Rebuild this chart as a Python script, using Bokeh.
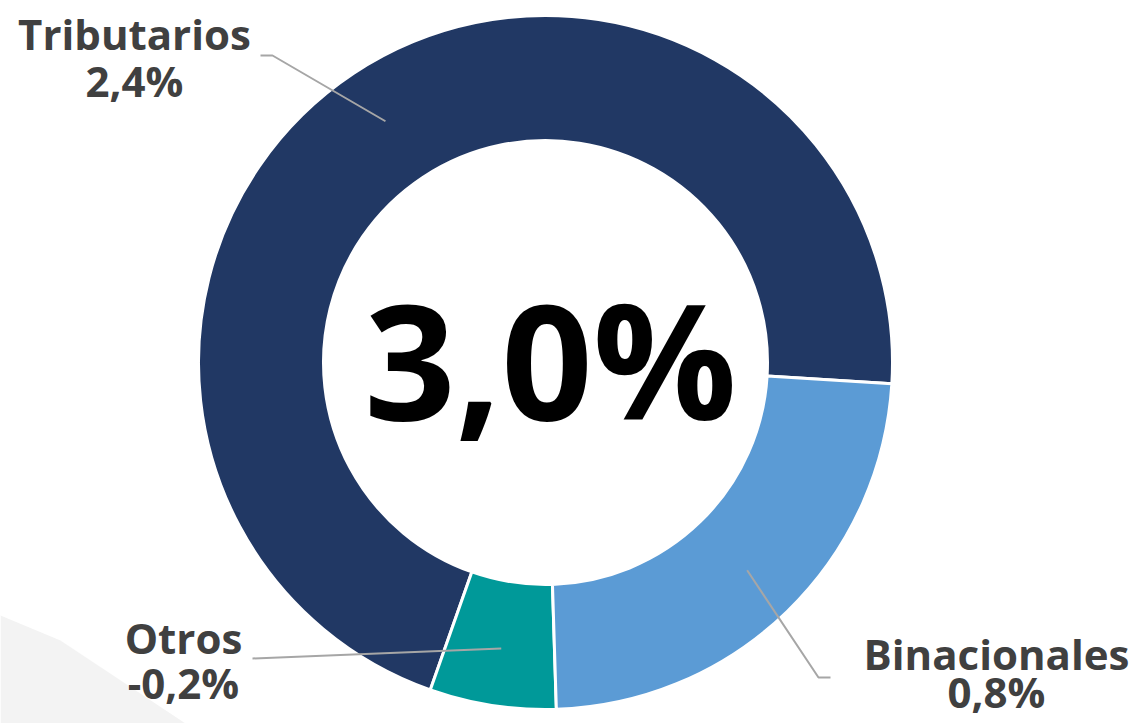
import math
from bokeh.plotting import figure
from bokeh.models import Range1d, ColumnDataSource
from bokeh.core.properties import value
from bokeh.embed import file_html
from bokeh.resources import INLINE

# ---- data ----
categories = ["Tributarios", "Otros", "Binacionales"]
values = [2.4, -0.2, 0.8]
value_labels = ["2,4%", "-0,2%", "0,8%"]
total_label = "3,0%"
colors = ["#213864", "#009999", "#5B9BD5"]

# ---- layout (screen pixels of the 1139x723 window) ----
W, H = 1139, 723
def sy(y):  # screen y -> data y
    return H - y

cx, cy = 545, sy(362)
r_out, r_in = 347, 222
start_deg = -3.5

p = figure(width=W, height=H, output_backend="svg", toolbar_location=None,
           x_range=Range1d(0, W), y_range=Range1d(0, H),
           min_border=0, outline_line_color=None)
p.axis.visible = False
p.grid.visible = False
p.background_fill_color = "white"

# faint background decoration bottom-left
p.patch([0, 60, 185, 0], [sy(615), sy(640), sy(723), sy(723)],
        fill_color="#e4e4e4", fill_alpha=0.45, line_color=None)

# wedge angles from data
absvals = [abs(v) for v in values]
tot = sum(absvals)
starts, ends = [], []
a = math.radians(start_deg)
for v in absvals:
    starts.append(a)
    a += v / tot * 2 * math.pi
    ends.append(a)

src = ColumnDataSource(dict(cat=categories, start=starts, end=ends, color=colors))
p.annular_wedge(x=cx, y=cy, inner_radius=r_in, outer_radius=r_out,
                start_angle="start", end_angle="end", color="color",
                line_color="white", line_width=3, source=src)

# leader lines and labels
mids = [(s + e) / 2 for s, e in zip(starts, ends)]
r_mid = (r_in + r_out) / 2 + 5
elbows = {
    "Tributarios": [(272, 55), (260, 55)],
    "Otros": [(252, 658)],
    "Binacionales": [(818, 677), (830, 677)],
}
label_pos = {
    "Tributarios": (134, 48, 95),
    "Otros": (183, 652, 697),
    "Binacionales": (996, 668, 706),
}
LBL = 42
for cat, m, vl in zip(categories, mids, value_labels):
    x0 = cx + r_mid * math.cos(m)
    y0 = cy + r_mid * math.sin(m)
    xs = [x0] + [e[0] for e in elbows[cat]]
    ys = [y0] + [sy(e[1]) for e in elbows[cat]]
    p.line(xs, ys, line_color="#A6A6A6", line_width=2)
    lx, ly1, ly2 = label_pos[cat]
    shift = 0.36 * LBL
    p.text(x=[lx], y=[sy(ly1 - shift)], text=[cat], text_font=value("Open Sans"),
           text_font_style="bold", text_font_size=f"{LBL}px", text_color="#404040",
           text_align="center", text_baseline="alphabetic")
    p.text(x=[lx], y=[sy(ly2 - shift)], text=[vl], text_font=value("Open Sans"),
           text_font_style="bold", text_font_size=f"{LBL}px", text_color="#404040",
           text_align="center", text_baseline="alphabetic")

# center total
BIG = 160
p.text(x=[cx + 5], y=[sy(415 - 0.36 * BIG)], text=[total_label], text_font=value("Open Sans"),
       text_font_style="bold", text_font_size=f"{BIG}px", text_color="#000000",
       text_align="center", text_baseline="alphabetic")

open("out.html", "w").write(file_html(p, INLINE))
